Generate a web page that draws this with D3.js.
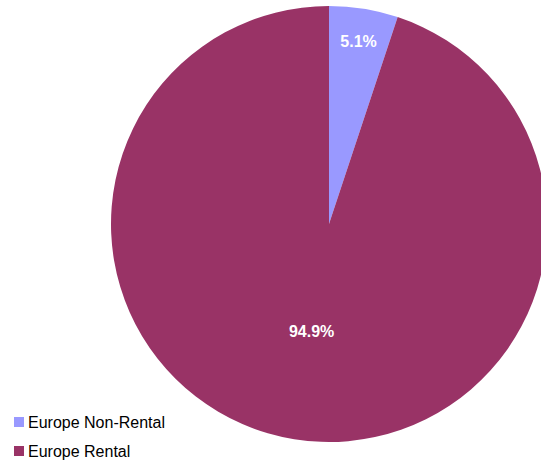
<!DOCTYPE html>
<html>
<head>
<meta charset="utf-8">
<style>
body { margin: 0; background: white; }
svg { display: block; font-family: "Liberation Sans", Arial, sans-serif; }
</style>
<script src="https://d3js.org/d3.v7.min.js"></script>
</head>
<body>
<svg id="chart" width="541" height="461"></svg>
<script>
var categories = ["Europe Non-Rental", "Europe Rental"];
var values = [5.1, 94.9];
var colors = ["#9999FF", "#993366"];

var svg = d3.select("#chart");
var cx = 329, cy = 224, radius = 218;

var pie = d3.pie().sort(null).value(function(d) { return d; });
var arcs = pie(values);
var arc = d3.arc().innerRadius(0).outerRadius(radius);

var g = svg.append("g").attr("transform", "translate(" + cx + "," + cy + ")");

g.selectAll("path")
  .data(arcs)
  .enter().append("path")
  .attr("d", arc)
  .attr("fill", function(d, i) { return colors[i]; });

// small slices get their label near the rim, big ones nearer the middle
g.selectAll("text")
  .data(arcs)
  .enter().append("text")
  .attr("transform", function(d) {
    var r = (d.endAngle - d.startAngle) < 1 ? radius * 0.85 : radius * 0.5;
    var a = (d.startAngle + d.endAngle) / 2;
    return "translate(" + (Math.sin(a) * r) + "," + (-Math.cos(a) * r) + ")";
  })
  .attr("text-anchor", "middle")
  .attr("dy", "0.35em")
  .attr("fill", "white")
  .attr("font-weight", "bold")
  .attr("font-size", "16px")
  .text(function(d) { return d.data.toFixed(1) + "%"; });

var legend = svg.append("g").attr("transform", "translate(14,417)");
var item = legend.selectAll("g")
  .data(categories)
  .enter().append("g")
  .attr("transform", function(d, i) { return "translate(0," + (i * 29) + ")"; });
item.append("rect")
  .attr("width", 10).attr("height", 10)
  .attr("fill", function(d, i) { return colors[i]; });
item.append("text")
  .attr("x", 14).attr("y", 11)
  .attr("font-size", "16px")
  .attr("fill", "black")
  .text(function(d) { return d; });
</script>
</body>
</html>
